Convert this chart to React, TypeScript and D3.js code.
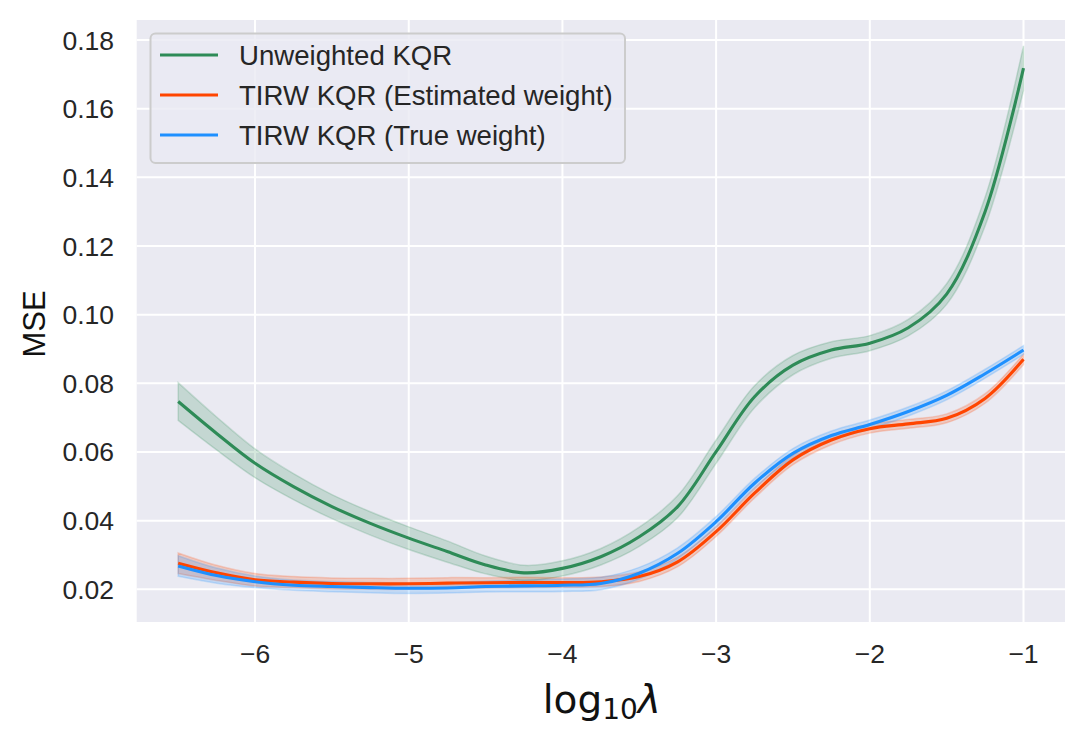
import * as d3 from 'd3';

// lambda grid (log10) and MSE curves
const lambdas = [-6.5, -6.25, -6, -5.75, -5.5, -5.25, -5, -4.75, -4.5, -4.25, -4, -3.75, -3.5, -3.25, -3, -2.75, -2.5, -2.25, -2, -1.75, -1.5, -1.25, -1];

const unweighted = [0.0747, 0.0654, 0.0567, 0.0499, 0.0441, 0.0392, 0.0349, 0.031, 0.0271, 0.0248, 0.0261, 0.0295, 0.0353, 0.0441, 0.0601, 0.0761, 0.0853, 0.0897, 0.0917, 0.0962, 0.106, 0.13, 0.1718];
const unweightedCI = [0.0055, 0.0048, 0.0042, 0.0038, 0.0035, 0.0034, 0.0033, 0.0031, 0.0026, 0.0022, 0.0022, 0.0024, 0.0028, 0.0032, 0.0034, 0.0032, 0.0028, 0.0024, 0.0022, 0.0024, 0.003, 0.0042, 0.0065];

const estimated = [0.0276, 0.0248, 0.0228, 0.0221, 0.0217, 0.0216, 0.0216, 0.0218, 0.0219, 0.022, 0.022, 0.0222, 0.0237, 0.028, 0.0368, 0.048, 0.0577, 0.0635, 0.0668, 0.0682, 0.0698, 0.0756, 0.087];
const estimatedCI = [0.003, 0.0022, 0.0018, 0.0016, 0.0016, 0.0016, 0.0016, 0.0016, 0.0015, 0.0015, 0.0014, 0.0014, 0.0014, 0.0014, 0.0014, 0.0014, 0.0014, 0.0014, 0.0013, 0.0013, 0.0013, 0.0014, 0.0015];

const trueWeight = [0.0268, 0.024, 0.0222, 0.0212, 0.0208, 0.0205, 0.0203, 0.0204, 0.0208, 0.021, 0.0212, 0.0217, 0.0247, 0.0305, 0.0397, 0.0509, 0.0596, 0.0648, 0.068, 0.0718, 0.0765, 0.0828, 0.0897];
const trueWeightCI = [0.003, 0.0022, 0.0017, 0.0015, 0.0015, 0.0015, 0.0015, 0.0015, 0.0016, 0.0017, 0.0018, 0.0018, 0.0017, 0.0016, 0.0015, 0.0014, 0.0014, 0.0013, 0.0013, 0.0013, 0.0013, 0.0013, 0.0013];

const xTicks = [-6, -5, -4, -3, -2, -1];
const yTicks = [0.02, 0.04, 0.06, 0.08, 0.1, 0.12, 0.14, 0.16, 0.18];

const series = [
  { name: 'Unweighted KQR', color: '#2E8B57', mean: unweighted, ci: unweightedCI },
  { name: 'TIRW KQR (Estimated weight)', color: '#FF4500', mean: estimated, ci: estimatedCI },
  { name: 'TIRW KQR (True weight)', color: '#1E90FF', mean: trueWeight, ci: trueWeightCI },
];

const W = 1085;
const H = 744;
const left = 136.7;
const right = 1065;
const top = 20;
const bottom = 622;

const FONT = '"Liberation Sans", Arial, sans-serif';

export default function App() {
  const x = d3.scaleLinear().domain([-6.77, -0.73]).range([left, right]);
  const y = d3.scaleLinear().domain([0.01048, 0.18583]).range([bottom, top]);

  const line = d3.line<[number, number]>()
    .x(d => x(d[0]))
    .y(d => y(d[1]))
    .curve(d3.curveCatmullRom);

  const area = d3.area<[number, number, number]>()
    .x(d => x(d[0]))
    .y0(d => y(d[1] - d[2]))
    .y1(d => y(d[1] + d[2]))
    .curve(d3.curveCatmullRom);

  return (
    <svg width={W} height={H} style={{ position: 'absolute', left: 0, top: 0, background: '#fff' }}>
      <rect x={left} y={top} width={right - left} height={bottom - top} fill="#EAEAF2" />

      {/* grid */}
      {xTicks.map(t => (
        <line key={'gx' + t} x1={x(t)} x2={x(t)} y1={top} y2={bottom} stroke="#fff" strokeWidth={2} />
      ))}
      {yTicks.map(t => (
        <line key={'gy' + t} x1={left} x2={right} y1={y(t)} y2={y(t)} stroke="#fff" strokeWidth={2} />
      ))}

      {/* bands and lines */}
      {series.map(s => {
        const pts = lambdas.map((l, i) => [l, s.mean[i], s.ci[i]] as [number, number, number]);
        return (
          <path key={s.name + 'band'} d={area(pts) || ''} fill={s.color} fillOpacity={0.2} stroke={s.color} strokeOpacity={0.2} strokeWidth={1.5} />
        );
      })}
      {series.map(s => {
        const pts = lambdas.map((l, i) => [l, s.mean[i]] as [number, number]);
        return (
          <path key={s.name + 'line'} d={line(pts) || ''} fill="none" stroke={s.color} strokeWidth={3.1} strokeLinecap="butt" strokeLinejoin="round" />
        );
      })}

      {/* tick labels */}
      {xTicks.map(t => (
        <text key={'tx' + t} x={x(t)} y={662.5} textAnchor="middle" fontFamily={FONT} fontSize={26.5} fill="#262626">
          {'\u2212' + Math.abs(t)}
        </text>
      ))}
      {yTicks.map(t => (
        <text key={'ty' + t} x={114} y={y(t) + 9.5} textAnchor="end" fontFamily={FONT} fontSize={26.5} fill="#262626">
          {t.toFixed(2)}
        </text>
      ))}

      {/* axis labels */}
      <text transform={`translate(45, ${(top + bottom) / 2 + 3}) rotate(-90)`} textAnchor="middle" fontFamily={FONT} fontSize={31} fill="#111">
        MSE
      </text>
      <text x={(left + right) / 2 + 1} y={713} textAnchor="middle" fontFamily='"DejaVu Sans", sans-serif' fontSize={39} fill="#111">
        log
        <tspan fontSize={28} dy={6.3}>10</tspan>
        <tspan dy={-6.3} fontStyle="italic">λ</tspan>
      </text>

      {/* legend */}
      <g>
        <rect x={150.5} y={33.5} width={474.5} height={129.5} rx={5} fill="#EAEAF2" fillOpacity={0.8} stroke="#CCCCCC" strokeWidth={2} />
        {series.map((s, i) => (
          <g key={s.name + 'leg'} transform={`translate(0, ${55 + i * 40})`}>
            <line x1={160} x2={218} y1={0} y2={0} stroke={s.color} strokeWidth={3.1} />
            <text x={239} y={9.8} fontFamily={FONT} fontSize={27.6} fill="#262626">{s.name}</text>
          </g>
        ))}
      </g>
    </svg>
  );
}
